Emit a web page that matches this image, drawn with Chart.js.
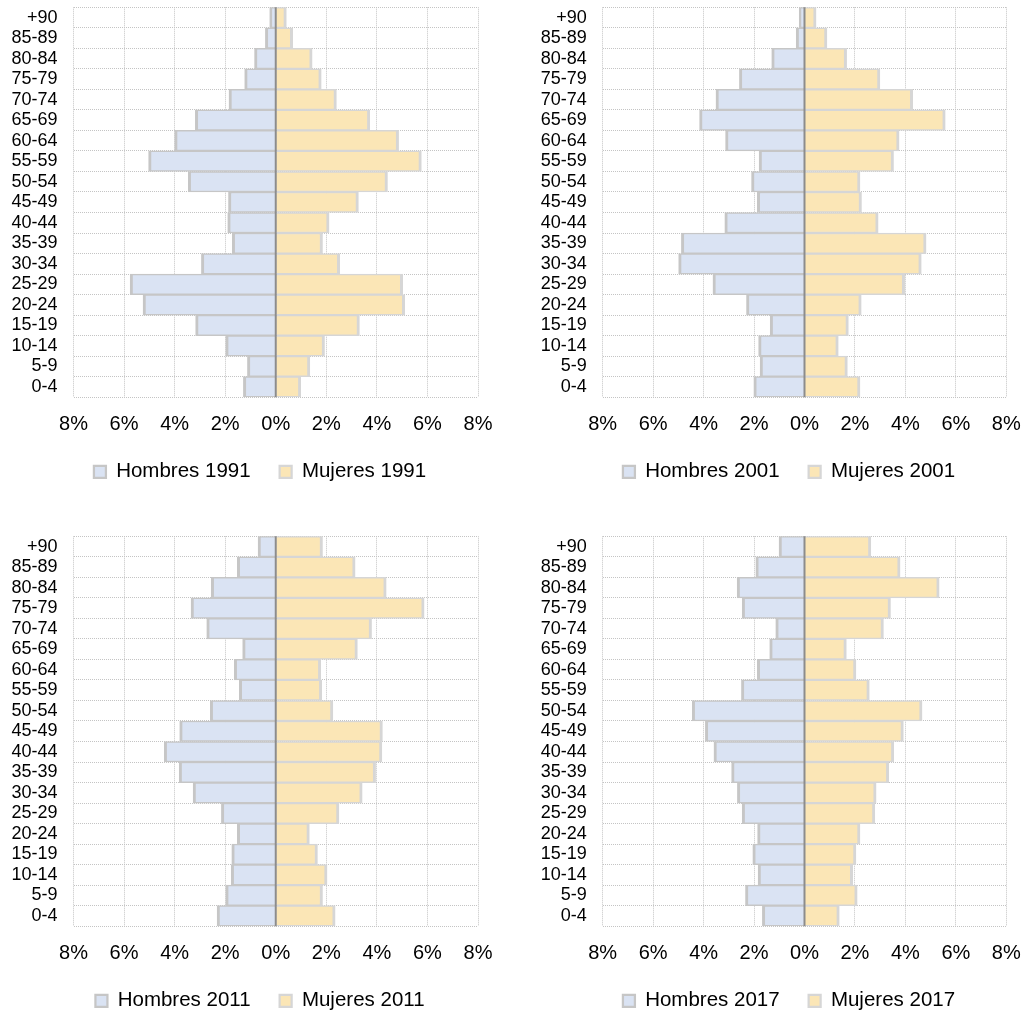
<!DOCTYPE html>
<html>
<head>
<meta charset="utf-8">
<script src="https://cdn.jsdelivr.net/npm/chart.js@4/dist/chart.umd.min.js"></script>
<style>
  html, body { margin: 0; padding: 0; background: #fff; overflow: hidden; }
  .panel { position: absolute; width: 512px; height: 494px; }
</style>
</head>
<body>
<div class="panel" style="left:0;top:0"><canvas id="c1991"></canvas></div>
<div class="panel" style="left:512px;top:0"><canvas id="c2001"></canvas></div>
<div class="panel" style="left:0;top:529px"><canvas id="c2011"></canvas></div>
<div class="panel" style="left:512px;top:529px"><canvas id="c2017"></canvas></div>
<script>
// age groups, top to bottom
var edades = ['+90', '85-89', '80-84', '75-79', '70-74', '65-69', '60-64', '55-59', '50-54', '45-49',
  '40-44', '35-39', '30-34', '25-29', '20-24', '15-19', '10-14', '5-9', '0-4'];

// % of population
var hombres1991 = [0.24, 0.41, 0.84, 1.23, 1.85, 3.18, 4.0, 5.03, 3.46, 1.87, 1.9, 1.72, 2.94, 5.76, 5.25, 3.17, 1.98, 1.12, 1.28];
var mujeres1991 = [0.42, 0.67, 1.44, 1.8, 2.4, 3.72, 4.86, 5.76, 4.42, 3.27, 2.11, 1.85, 2.53, 5.02, 5.1, 3.31, 1.93, 1.35, 0.99];
var hombres2001 = [0.21, 0.33, 1.3, 2.58, 3.51, 4.16, 3.13, 1.8, 2.1, 1.87, 3.16, 4.88, 4.99, 3.63, 2.3, 1.36, 1.82, 1.76, 2.01];
var mujeres2001 = [0.46, 0.89, 1.67, 2.99, 4.29, 5.58, 3.75, 3.53, 2.2, 2.26, 2.92, 4.82, 4.63, 3.97, 2.25, 1.74, 1.34, 1.7, 2.2];
var hombres2011 = [0.7, 1.52, 2.55, 3.35, 2.73, 1.31, 1.64, 1.44, 2.59, 3.8, 4.41, 3.82, 3.27, 2.15, 1.52, 1.74, 1.76, 1.98, 2.32];
var mujeres2011 = [1.85, 3.14, 4.37, 5.87, 3.79, 3.23, 1.78, 1.82, 2.26, 4.22, 4.2, 3.95, 3.42, 2.5, 1.33, 1.65, 2.03, 1.85, 2.35];
var hombres2017 = [1.01, 1.93, 2.67, 2.47, 1.14, 1.38, 1.87, 2.5, 4.45, 3.93, 3.59, 2.89, 2.66, 2.47, 1.86, 2.05, 1.84, 2.34, 1.67];
var mujeres2017 = [2.63, 3.79, 5.34, 3.41, 3.13, 1.66, 2.04, 2.57, 4.66, 3.92, 3.54, 3.34, 2.84, 2.79, 2.2, 2.04, 1.91, 2.09, 1.38];

var xTicks = [-8, -6, -4, -2, 0, 2, 4, 6, 8];

Chart.defaults.font.family = "'Liberation Sans', Arial, sans-serif";
Chart.defaults.color = '#000';

// grey axis line at 0, over the bars
var zeroLine = {
  id: 'zeroLine',
  beforeDraw: function(chart) {
    // let the age labels spill left of the (narrow) axis box
    chart.scales.y._computeLabelArea = function() {};
  },
  afterDatasetsDraw: function(chart) {
    var x = chart.scales.x.getPixelForValue(0);
    var ctx = chart.ctx;
    ctx.save();
    ctx.strokeStyle = '#8c8c8c';
    ctx.lineWidth = 2;
    ctx.beginPath();
    ctx.moveTo(x, chart.chartArea.top);
    ctx.lineTo(x, chart.chartArea.bottom);
    ctx.stroke();
    ctx.restore();
  }
};

function pyramid(id, year, hombres, mujeres, padLeft, axisWidth, padRight) {
  return new Chart(document.getElementById(id), {
    type: 'bar',
    data: {
      labels: edades,
      datasets: [{
        label: 'Hombres ' + year,
        data: hombres.map(function(v) { return -v; }),
        backgroundColor: '#dae3f3',
        borderColor: '#c6c6c6',
        borderWidth: { top: 1.5, bottom: 1.5, left: 3, right: 3 }
      }, {
        label: 'Mujeres ' + year,
        data: mujeres,
        backgroundColor: '#fbe6b6',
        borderColor: '#d6d6d6',
        borderWidth: { top: 1.5, bottom: 1.5, left: 3, right: 3 }
      }]
    },
    options: {
      indexAxis: 'y',
      responsive: true,
      maintainAspectRatio: false,
      animation: false,
      categoryPercentage: 1,
      barPercentage: 1,
      layout: { padding: { top: 7.3, left: padLeft, right: padRight, bottom: 2 } },
      scales: {
        x: {
          stacked: true,
          min: -8,
          max: 8,
          afterBuildTicks: function(scale) {
            scale.ticks = xTicks.map(function(v) { return { value: v }; });
          },
          afterFit: function(scale) {
            scale.height = 35.3;
            scale.paddingLeft = 0;
            scale.paddingRight = 0;
          },
          ticks: {
            font: { size: 20 },
            padding: 15,
            maxRotation: 0,
            callback: function(v) { return Math.abs(v) + '%'; }
          },
          grid: { color: '#c4c4c4', drawTicks: false },
          border: { display: false, dash: [1, 1] }
        },
        y: {
          stacked: true,
          afterFit: function(scale) {
            scale.width = axisWidth;
            scale.paddingTop = 0;
            scale.paddingBottom = 0;
          },
          ticks: { font: { size: 18 }, padding: 16, autoSkip: false },
          grid: { color: '#c4c4c4', drawTicks: false },
          border: { display: false, dash: [1, 1] }
        }
      },
      plugins: {
        legend: {
          position: 'bottom',
          labels: { boxWidth: 12, boxHeight: 12, padding: 29, font: { size: 20.5 }, color: '#000' }
        },
        tooltip: { enabled: false }
      }
    },
    plugins: [zeroLine]
  });
}

pyramid('c1991', 1991, hombres1991, mujeres1991, 42, 31.5, 34);
pyramid('c2001', 2001, hombres2001, mujeres2001, 59.7, 31, 17.7);
pyramid('c2011', 2011, hombres2011, mujeres2011, 42, 31.5, 34);
pyramid('c2017', 2017, hombres2017, mujeres2017, 59.7, 31, 17.7);
</script>
</body>
</html>
